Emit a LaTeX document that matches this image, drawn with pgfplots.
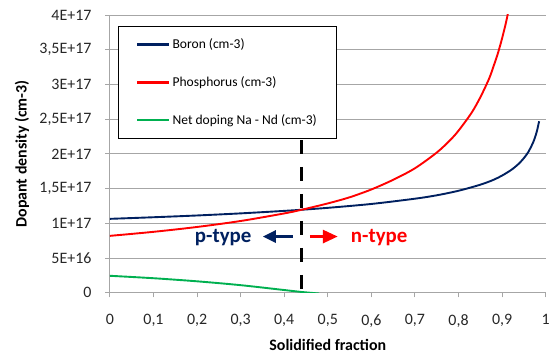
\documentclass[border=0pt]{standalone}
\usepackage{pgfplots}
\pgfplotsset{compat=1.18}
\usepackage{fontspec}
\setmainfont{Carlito}
\usetikzlibrary{arrows.meta}
\definecolor{navyb}{RGB}{0,32,96}
\definecolor{redp}{RGB}{255,0,0}
\definecolor{greenn}{RGB}{0,176,80}
\definecolor{gridg}{RGB}{166,166,166}
\begin{document}
\begin{tikzpicture}
\begin{axis}[
  scale only axis,
  width=436bp, height=278bp,
  xmin=0, xmax=1, ymin=0, ymax=4,
  axis lines=left,
  axis line style={-, draw=gridg, line width=0.9bp},
  xtick={0,0.1,0.2,0.3,0.4,0.5,0.6,0.7,0.8,0.9,1},
  xticklabels={0,{0,1},{0,2},{0,3},{0,4},{0,5},{0,6},{0,7},{0,8},{0,9},1},
  ytick={0,0.5,1,1.5,2,2.5,3,3.5,4},
  yticklabels={0,5E+16,1E+17,{1,5E+17},2E+17,{2,5E+17},3E+17,{3,5E+17},4E+17},
  scaled y ticks=false,
  tick align=outside,
  major tick length=4.5bp,
  tick style={draw=gridg, line width=0.9bp},
  ymajorgrids,
  grid style={draw=gridg, line width=0.9bp},
  /pgf/number format/assume math mode=true,
  ticklabel style={font=\fontsize{16}{19}\selectfont, text=black!85},
  xticklabel style={yshift=-13.5bp},
  yticklabel style={xshift=-10.5bp},
  xlabel={Solidified fraction},
  ylabel={Dopant density (cm-3)},
  x label style={at={(axis description cs:0.5,-0.187)}, anchor=center, inner sep=0pt, font=\fontsize{16}{19}\selectfont\bfseries},
  y label style={at={(axis description cs:-0.2018,0.5)}, anchor=center, inner sep=0pt, font=\fontsize{16}{19}\selectfont\bfseries},
  legend cell align=left,
  legend style={at={(0.0183,0.9615)}, anchor=north west, draw=black, line width=0.9bp, fill=white,
    font=\fontsize{13.6}{16}\selectfont, inner xsep=18bp, inner ysep=10.8bp, row sep=22.4bp},
  legend image code/.code={\draw[#1, line width=2.3bp] (0bp,0bp) -- (32bp,0bp);},
]
\addplot[color=navyb, line width=1.9bp, smooth] coordinates {
(0,1.065) (0.1,1.088) (0.2,1.1135) (0.3,1.1437) (0.4,1.1796) (0.44,1.196) (0.5,1.2234)
(0.6,1.2792) (0.7,1.355) (0.75,1.404) (0.8,1.4694) (0.85,1.5564) (0.88,1.626) (0.9,1.6879) (0.92,1.765) (0.93,1.8128)
(0.94,1.869) (0.95,1.939) (0.96,2.025) (0.97,2.1474) (0.975,2.226) (0.98,2.3288) (0.985,2.47)};
\addlegendentry{Boron (cm-3)}
\addplot[color=redp, line width=1.9bp, smooth] coordinates {
(0,0.82) (0.1,0.878) (0.2,0.948) (0.3,1.034) (0.4,1.143) (0.44,1.196) (0.5,1.287)
(0.55,1.375) (0.6,1.488) (0.65,1.627) (0.7,1.793) (0.75,2.019) (0.78,2.193) (0.8,2.334) (0.83,2.592)
(0.85,2.814) (0.87,3.08) (0.88,3.254) (0.89,3.44) (0.9,3.663) (0.91,3.92) (0.92,4.235)};
\addlegendentry{Phosphorus (cm-3)}
\addplot[color=greenn, line width=1.9bp, smooth] coordinates {
(0,0.245) (0.1,0.21) (0.2,0.1655) (0.3,0.11) (0.4,0.04) (0.44,0.012) (0.48,-0.01)};
\addlegendentry{Net doping Na - Nd (cm-3)}
\addplot[black, line width=3.5bp, dash pattern=on 14bp off 13bp, forget plot] coordinates {(0.44,2.2) (0.44,0)};
\draw[navyb, line width=3bp, -{Triangle[length=13bp,width=12bp]}] (axis cs:0.4197,0.81) -- (axis cs:0.3509,0.81);
\draw[redp, line width=3bp, -{Triangle[length=15bp,width=13bp]}] (axis cs:0.4587,0.81) -- (axis cs:0.5229,0.81);
\node[font=\fontsize{21}{24}\selectfont\bfseries, text=navyb] at (axis cs:0.26,0.79) {p-type};
\node[font=\fontsize{21}{24}\selectfont\bfseries, text=redp] at (axis cs:0.618,0.79) {n-type};
\end{axis}
\path (current axis.south west) ++(-110bp,-61bp) coordinate (bbA);
\path (current axis.north east) ++(7bp,15bp) coordinate (bbB);
\path (bbA) rectangle (bbB);
\end{tikzpicture}
\end{document}
